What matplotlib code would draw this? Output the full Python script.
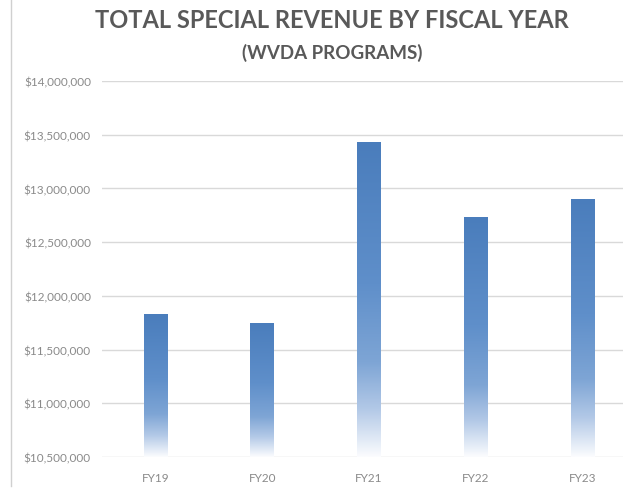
import numpy as np
import matplotlib.pyplot as plt
from matplotlib.colors import LinearSegmentedColormap
from matplotlib.lines import Line2D
from matplotlib.ticker import FuncFormatter

years = ["FY19", "FY20", "FY21", "FY22", "FY23"]
revenue = [11830000, 11750000, 13430000, 12730000, 12905000]

y_min, y_max, y_step = 10500000, 14000000, 500000

# top-to-bottom fade used inside each bar
fade = LinearSegmentedColormap.from_list(
    "fade", [(0.0, "#4a7dbc"), (0.45, "#5f8fca"), (0.70, "#7ea5d5"),
             (0.85, "#b3c9e7"), (1.0, "#fbfcfe")])

fig = plt.figure(figsize=(6.23, 4.89), dpi=100)
ax = fig.add_axes([102 / 623, 1 - 458 / 489, 534 / 623, 376 / 489])

# thin frame edge on the left of the chart area
fig.lines.append(Line2D([11 / 623, 11 / 623], [2 / 489, 1.0],
                        transform=fig.transFigure, color="#d0d0d0",
                        linewidth=1.0))

x = np.arange(len(years))
bars = ax.bar(x, np.array(revenue) - y_min, bottom=y_min, width=0.22,
              facecolor="none", edgecolor="none", zorder=2)

grad = np.linspace(0, 1, 256).reshape(-1, 1)
for b in bars:
    x0, y0 = b.get_x(), b.get_y()
    im = ax.imshow(grad, cmap=fade, aspect="auto", origin="upper",
                   extent=[x0, x0 + b.get_width(), y0, y0 + b.get_height()],
                   zorder=2)
    im.set_clip_path(b)

ax.set_xlim(-0.5, len(years) - 0.5)
ax.set_ylim(y_min, y_max)
ax.set_yticks(np.arange(y_min, y_max + 1, y_step))
ax.yaxis.set_major_formatter(FuncFormatter(lambda v, p: f"${v:,.0f}"))
ax.set_xticks(x)
ax.set_xticklabels(years)

ax.grid(axis="y", color="#d9d9d9", linewidth=1.0, zorder=0)
ax.set_axisbelow(True)
for s in ax.spines.values():
    s.set_visible(False)
ax.tick_params(length=0, colors="#8a8a8a", labelsize=8.5)
ax.tick_params(axis="y", pad=8)
ax.tick_params(axis="x", pad=11)
for lab in ax.get_xticklabels() + ax.get_yticklabels():
    lab.set_family("Lato")

fig.text(332 / 623, 1 - 21 / 489, "TOTAL SPECIAL REVENUE BY FISCAL YEAR",
         ha="center", va="center", fontsize=17, fontweight="bold",
         color="#595959", family="Lato")
fig.text(332 / 623, 1 - 53 / 489, "(WVDA PROGRAMS)",
         ha="center", va="center", fontsize=13.5, fontweight="bold",
         color="#595959", family="Lato")

fig.savefig("out.png", dpi=100)
